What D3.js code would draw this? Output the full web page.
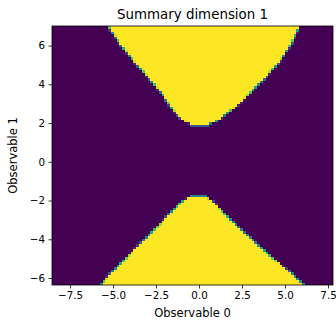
<!DOCTYPE html>
<html>
<head>
<meta charset="utf-8">
<script src="https://cdn.jsdelivr.net/npm/d3@7"></script>
<style>
  body { margin: 0; background: #fff; }
  svg { display: block; }
  text { font-family: "DejaVu Sans", sans-serif; fill: #000; }
</style>
</head>
<body>
<svg id="chart" width="336" height="321"></svg>
<script>
// ---- data ----
const title = "Summary dimension 1";
const xLabel = "Observable 0";
const yLabel = "Observable 1";
const xExtent = [-8.55, 7.79];
const yExtent = [-6.36, 7.01];
const gridSize = [100, 100];               // columns, rows of the image
const xTicks = [-7.5, -5.0, -2.5, 0.0, 2.5, 5.0, 7.5];
const yTicks = [-6, -4, -2, 0, 2, 4, 6];

// upper yellow region: boundary at several heights (y, left x, right x)
const topY = [1.96, 2.05, 2.18, 2.32, 2.50, 2.68, 2.88, 3.19, 3.57, 4.43, 5.31, 6.15, 7.01];
const topL = [-0.45, -0.72, -0.95, -1.15, -1.35, -1.52, -1.68, -1.90, -2.20, -3.04, -3.90, -4.65, -5.29];
const topR = [0.55, 0.85, 1.12, 1.38, 1.62, 1.88, 2.19, 2.56, 2.97, 3.94, 4.81, 5.39, 5.87];

// lower yellow region
const botY = [-6.36, -5.76, -4.90, -4.04, -3.18, -2.50, -2.20, -2.00, -1.88, -1.82];
const botL = [-5.76, -5.17, -4.20, -3.24, -2.27, -1.55, -1.22, -0.95, -0.72, -0.50];
const botR = [6.16, 5.41, 4.24, 3.14, 2.09, 1.32, 1.00, 0.78, 0.58, 0.38];

// ---- layout ----
const svg = d3.select("#chart");
const plot = { left: 52, right: 333, top: 26, bottom: 285 };

const x = d3.scaleLinear().domain(xExtent).range([plot.left, plot.right]);
const y = d3.scaleLinear().domain(yExtent).range([plot.bottom, plot.top]);
const color = d3.scaleSequential(d3.interpolateViridis).domain([0, 1]);

const topLs = d3.scaleLinear().domain(topY).range(topL);
const topRs = d3.scaleLinear().domain(topY).range(topR);
const botLs = d3.scaleLinear().domain(botY).range(botL);
const botRs = d3.scaleLinear().domain(botY).range(botR);

const [nx, ny] = gridSize;
const dx = (xExtent[1] - xExtent[0]) / nx;
const dy = (yExtent[1] - yExtent[0]) / ny;
const topMin = topY[0], botMax = botY[botY.length - 1];

const cells = [];
for (let j = 0; j < ny; j++) {
  const y0 = yExtent[0] + j * dy, yc = y0 + dy / 2;
  for (let i = 0; i < nx; i++) {
    const x0 = xExtent[0] + i * dx, xc = x0 + dx / 2;
    let d = -10;
    if (yc >= topMin - dy) {
      const yy = Math.max(yc, topMin);
      const L = topLs(yy), R = topRs(yy);
      d = Math.min((xc - L) / dx, (R - xc) / dx, (yc - topMin) / dy + 0.5);
    } else if (yc <= botMax + dy) {
      const yy = Math.min(yc, botMax);
      const L = botLs(yy), R = botRs(yy);
      d = Math.min((xc - L) / dx, (R - xc) / dx, (botMax - yc) / dy + 0.5);
    }
    const v = Math.max(0, Math.min(1, 0.5 + d));
    cells.push({ x0, x1: x0 + dx, y0, y1: y0 + dy, v });
  }
}

svg.append("g")
  .attr("shape-rendering", "crispEdges")
  .selectAll("rect")
  .data(cells)
  .join("rect")
  .attr("x", d => x(d.x0))
  .attr("y", d => y(d.y1))
  .attr("width", d => x(d.x1) - x(d.x0) + 0.4)
  .attr("height", d => y(d.y0) - y(d.y1) + 0.4)
  .attr("fill", d => color(d.v));

// frame
svg.append("rect")
  .attr("x", plot.left).attr("y", plot.top)
  .attr("width", plot.right - plot.left).attr("height", plot.bottom - plot.top)
  .attr("fill", "none").attr("stroke", "#000").attr("stroke-width", 0.8);

// axes
const fmtX = d3.format(".1f");
const xAxis = svg.append("g")
  .attr("transform", `translate(0,${plot.bottom})`)
  .call(d3.axisBottom(x).tickValues(xTicks).tickFormat(fmtX).tickSize(3.5).tickPadding(3.5).tickSizeOuter(0));
const yAxis = svg.append("g")
  .attr("transform", `translate(${plot.left},0)`)
  .call(d3.axisLeft(y).tickValues(yTicks).tickFormat(d3.format("d")).tickSize(3.5).tickPadding(3.5).tickSizeOuter(0));
[xAxis, yAxis].forEach(g => {
  g.select(".domain").remove();
  g.selectAll("line").attr("stroke", "#000").attr("stroke-width", 0.8);
  g.selectAll("text").attr("font-family", "DejaVu Sans").attr("font-size", "10.3px").attr("fill", "#000");
});

// title and labels
svg.append("text")
  .attr("x", (plot.left + plot.right) / 2).attr("y", 19)
  .attr("text-anchor", "middle").attr("font-size", "13.4px").text(title);
svg.append("text")
  .attr("x", (plot.left + plot.right) / 2).attr("y", 317)
  .attr("text-anchor", "middle").attr("font-size", "11.5px").text(xLabel);
svg.append("text")
  .attr("transform", `translate(17,${(plot.top + plot.bottom) / 2}) rotate(-90)`)
  .attr("text-anchor", "middle").attr("font-size", "11.5px").text(yLabel);
</script>
</body>
</html>
